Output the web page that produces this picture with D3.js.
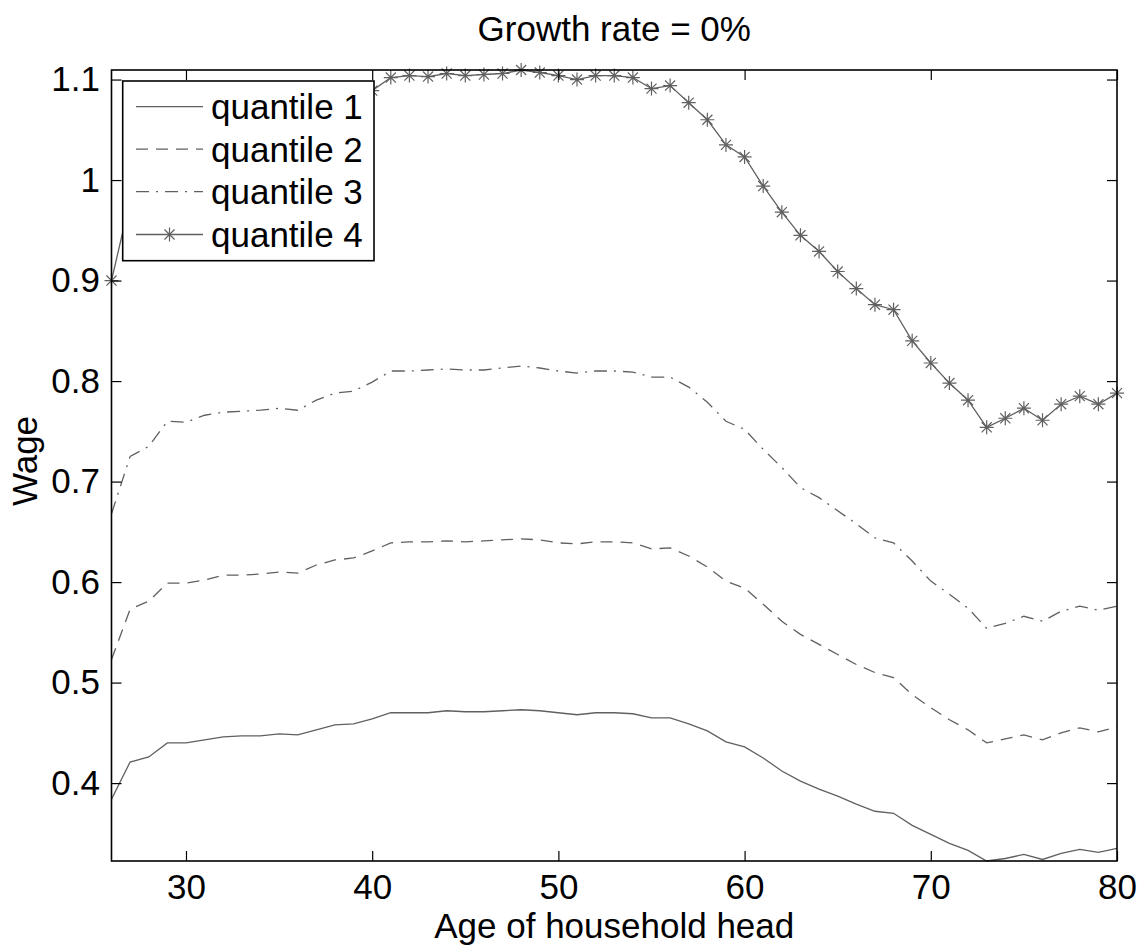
<!DOCTYPE html>
<html>
<head>
<meta charset="utf-8">
<script src="https://cdn.jsdelivr.net/npm/d3@7"></script>
<style>
  html, body { margin: 0; padding: 0; background: #fff; }
  svg { display: block; font-family: "Liberation Sans", Arial, Helvetica, sans-serif; }
</style>
</head>
<body>
<svg id="chart" width="1138" height="945"></svg>
<script>
// ---- data ----
const ages = [26,27,28,29,30,31,32,33,34,35,36,37,38,39,40,41,42,43,44,45,46,47,48,49,50,51,52,53,54,55,56,57,58,59,60,61,62,63,64,65,66,67,68,69,70,71,72,73,74,75,76,77,78,79,80];

const quantile1 = [0.384,0.421,0.426,0.440,0.440, 0.443,0.446,0.447,0.447,0.449,
                   0.448,0.453,0.458,0.459,0.464, 0.470,0.470,0.470,0.472,0.471,
                   0.471,0.472,0.473,0.472,0.470, 0.468,0.470,0.470,0.469,0.465,
                   0.465,0.459,0.452,0.441,0.436, 0.425,0.412,0.402,0.394,0.387,
                   0.379,0.372,0.370,0.358,0.349, 0.340,0.333,0.3225,0.325,0.329,
                   0.324,0.330,0.334,0.331,0.335];

const quantile2 = [0.523,0.573,0.581,0.599,0.599, 0.602,0.607,0.607,0.608,0.610,
                   0.609,0.617,0.622,0.624,0.631, 0.639,0.640,0.640,0.641,0.640,
                   0.641,0.642,0.643,0.642,0.639, 0.638,0.640,0.640,0.639,0.633,
                   0.634,0.626,0.615,0.601,0.594, 0.578,0.561,0.548,0.538,0.528,
                   0.518,0.510,0.505,0.488,0.475, 0.463,0.453,0.440,0.444,0.448,
                   0.443,0.450,0.455,0.451,0.456];

const quantile3 = [0.668,0.725,0.735,0.760,0.759, 0.766,0.769,0.770,0.771,0.773,
                   0.771,0.781,0.788,0.790,0.799, 0.810,0.810,0.811,0.812,0.811,
                   0.811,0.813,0.815,0.813,0.810, 0.808,0.810,0.810,0.809,0.804,
                   0.804,0.794,0.779,0.760,0.752, 0.732,0.714,0.694,0.684,0.671,
                   0.658,0.644,0.639,0.621,0.601, 0.588,0.574,0.554,0.559,0.566,
                   0.561,0.571,0.576,0.572,0.576];

const quantile4 = [0.900,0.980,0.996,1.030,1.029, 1.039,1.042,1.043,1.044,1.047,
                   1.045,1.058,1.068,1.070,1.089, 1.102,1.104,1.103,1.106,1.104,
                   1.105,1.106,1.1095,1.107,1.104, 1.100,1.104,1.104,1.102,1.091,
                   1.094,1.077,1.060,1.035,1.023, 0.994,0.968,0.945,0.929,0.909,
                   0.892,0.876,0.871,0.840,0.818, 0.798,0.781,0.754,0.763,0.773,
                   0.761,0.777,0.785,0.777,0.788];

const seriesNames = ["quantile 1","quantile 2","quantile 3","quantile 4"];
const xTickValues = [30,40,50,60,70,80];
const xTickLabels = ["30","40","50","60","70","80"];
const yTickValues = [0.4,0.5,0.6,0.7,0.8,0.9,1.0,1.1];
const yTickLabels = ["0.4","0.5","0.6","0.7","0.8","0.9","1","1.1"];
const titleText = "Growth rate = 0%";
const xLabelText = "Age of household head";
const yLabelText = "Wage";

// ---- layout ----
const svg = d3.select("#chart");
const L = 111.5, R = 1117, T = 70, B = 861;
const FS = 35;
const lineColor = "#606060";

const allVals = quantile1.concat(quantile2, quantile3, quantile4);
const x = d3.scaleLinear().domain(d3.extent(ages)).range([L, R]);
const y = d3.scaleLinear().domain(d3.extent(allVals)).range([B, T]);

const series = [
  { name: seriesNames[0], values: quantile1, dash: null, marker: false },
  { name: seriesNames[1], values: quantile2, dash: "12,8", marker: false },
  { name: seriesNames[2], values: quantile3, dash: "13,7,2,7", marker: false },
  { name: seriesNames[3], values: quantile4, dash: null, marker: true }
];

const line = d3.line().x((d, i) => x(ages[i])).y(d => y(d));

const r = 7, k = r * 0.72;
const starPath = `M${-r},0L${r},0M0,${-r}L0,${r}M${-k},${-k}L${k},${k}M${-k},${k}L${k},${-k}`;

// plot lines
const gLines = svg.append("g");
series.forEach(s => {
  gLines.append("path")
    .attr("d", line(s.values))
    .attr("fill", "none")
    .attr("stroke", lineColor)
    .attr("stroke-width", 1.3)
    .attr("stroke-dasharray", s.dash);
  if (s.marker) {
    gLines.selectAll(null).data(s.values).enter().append("path")
      .attr("d", starPath)
      .attr("transform", (d, i) => `translate(${x(ages[i])},${y(d)})`)
      .attr("fill", "none")
      .attr("stroke", lineColor)
      .attr("stroke-width", 1.2);
  }
});

// axes (ticks inward, box)
const fmtX = v => xTickLabels[xTickValues.indexOf(v)];
const fmtY = v => yTickLabels[yTickValues.findIndex(t => Math.abs(t - v) < 1e-9)];

const xAxisB = svg.append("g").attr("transform", `translate(0,${B})`)
  .call(d3.axisBottom(x).tickValues(xTickValues).tickFormat(fmtX).tickSize(-10).tickPadding(13.5));
const xAxisT = svg.append("g").attr("transform", `translate(0,${T})`)
  .call(d3.axisTop(x).tickValues(xTickValues).tickFormat("").tickSize(-10));
const yAxisL = svg.append("g").attr("transform", `translate(${L},0)`)
  .call(d3.axisLeft(y).tickValues(yTickValues).tickFormat(fmtY).tickSize(-10).tickPadding(11.5));
const yAxisR = svg.append("g").attr("transform", `translate(${R},0)`)
  .call(d3.axisRight(y).tickValues(yTickValues).tickFormat("").tickSize(-10));

[xAxisB, xAxisT, yAxisL, yAxisR].forEach(g => {
  g.select(".domain").remove();
  g.selectAll(".tick line").attr("stroke", "#000").attr("stroke-width", 1.2);
  g.selectAll(".tick text").attr("fill", "#000").attr("font-size", FS)
    .attr("font-family", "Liberation Sans, Arial, sans-serif");
});

svg.append("rect")
  .attr("x", L).attr("y", T).attr("width", R - L).attr("height", B - T)
  .attr("fill", "none").attr("stroke", "#000").attr("stroke-width", 1.6);

// title and labels
svg.append("text").attr("x", (L + R) / 2).attr("y", 41)
  .attr("text-anchor", "middle").attr("font-size", FS).attr("fill", "#000").text(titleText);
svg.append("text").attr("x", (L + R) / 2).attr("y", 937.5)
  .attr("text-anchor", "middle").attr("font-size", FS).attr("fill", "#000").text(xLabelText);
svg.append("text").attr("transform", "translate(36.5,461) rotate(-90)")
  .attr("text-anchor", "middle").attr("font-size", FS).attr("fill", "#000").text(yLabelText);

// legend
const lg = svg.append("g");
lg.append("rect").attr("x", 122.7).attr("y", 81).attr("width", 374 - 122.7).attr("height", 260.7 - 81)
  .attr("fill", "#fff").attr("stroke", "#000").attr("stroke-width", 1.6);
const rowY = [106.7, 149.2, 191.7, 234.5];
series.forEach((s, i) => {
  const yy = rowY[i];
  lg.append("line").attr("x1", 136).attr("x2", 203).attr("y1", yy).attr("y2", yy)
    .attr("stroke", lineColor).attr("stroke-width", 1.3).attr("stroke-dasharray", s.dash);
  if (s.marker) {
    lg.append("path").attr("d", starPath).attr("transform", `translate(169.5,${yy})`)
      .attr("fill", "none").attr("stroke", lineColor).attr("stroke-width", 1.2);
  }
  lg.append("text").attr("x", 211).attr("y", yy + 12.6).attr("font-size", FS)
    .attr("fill", "#000").text(s.name);
});
</script>
</body>
</html>
